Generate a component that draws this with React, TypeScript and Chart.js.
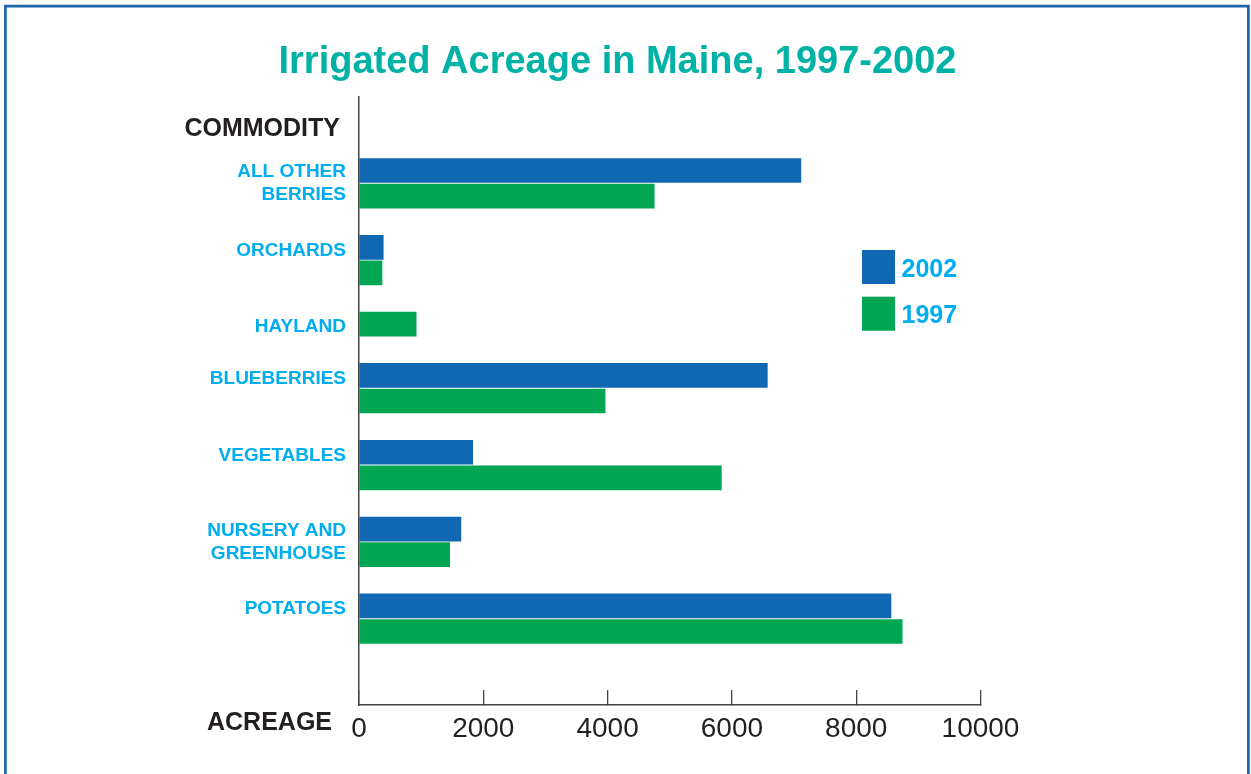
import React, { useEffect, useRef } from "react";
import { Chart, registerables } from "chart.js";

Chart.register(...registerables);

// ---------- data ----------
const chartTitle = "Irrigated Acreage in Maine, 1997-2002";
const commodities = [
  "ALL OTHER BERRIES",
  "ORCHARDS",
  "HAYLAND",
  "BLUEBERRIES",
  "VEGETABLES",
  "NURSERY AND GREENHOUSE",
  "POTATOES",
];
const commodityLabelLines = [
  ["ALL OTHER", "BERRIES"],
  ["ORCHARDS"],
  ["HAYLAND"],
  ["BLUEBERRIES"],
  ["VEGETABLES"],
  ["NURSERY AND", "GREENHOUSE"],
  ["POTATOES"],
];
const acres2002: (number | null)[] = [7110, 390, null, 6570, 1830, 1640, 8560];
const acres1997: (number | null)[] = [4750, 370, 920, 3960, 5830, 1460, 8740];
const seriesNames = ["2002", "1997"];
const xTickValues = [0, 2000, 4000, 6000, 8000, 10000];
const yAxisTitle = "COMMODITY";
const xAxisTitle = "ACREAGE";

// ---------- styles ----------
const FONT = '"Liberation Sans", Arial, Helvetica, sans-serif';
const BLUE = "#1068b3";
const GREEN = "#00a651";
const CYAN = "#00aeef";
const TEAL = "#00b2a5";
const DARK = "#231f20";
const FRAME = "#1d64a8";
const AXIS = "#444444";
const W = 1251;
const H = 774;
const ROW_EDGE = 2.87;
const SINGLE_LABEL_SHIFT = 0.12; // single-line labels sit slightly below bar centre

// Build bar rows: one row per present bar, one blank row between commodities
const seriesValues = [acres2002, acres1997];
const seriesPoints: { x: number; y: number }[][] = seriesValues.map(() => []);
const rowLabels = new Map<number, string | string[]>();
let rowCursor = 0;
commodities.forEach((_, i) => {
  const start = rowCursor;
  seriesValues.forEach((vals, si) => {
    const v = vals[i];
    if (v !== null && v !== undefined) {
      seriesPoints[si].push({ x: v, y: rowCursor });
      rowCursor++;
    }
  });
  const end = rowCursor - 1;
  const lines = commodityLabelLines[i];
  if (lines.length > 1) rowLabels.set((start + end) / 2, lines);
  else rowLabels.set(start + SINGLE_LABEL_SHIFT, lines[0]);
  rowCursor++;
});
const lastRow = rowCursor - 2;

const decorPlugin = {
  id: "decor",
  afterDraw(chart: any) {
    const ctx = chart.ctx as CanvasRenderingContext2D;
    ctx.save();
    // frame
    ctx.strokeStyle = FRAME;
    ctx.lineWidth = 2.7;
    ctx.beginPath();
    ctx.moveTo(5.4, H + 5);
    ctx.lineTo(5.4, 6.2);
    ctx.lineTo(1248.4, 6.2);
    ctx.lineTo(1248.4, H + 5);
    ctx.stroke();

    // title
    ctx.fillStyle = TEAL;
    ctx.font = `bold 38px ${FONT}`;
    ctx.textAlign = "center";
    ctx.textBaseline = "alphabetic";
    ctx.fillText(chartTitle, 617.5, 73);

    // axis titles
    ctx.fillStyle = DARK;
    ctx.font = `bold 25px ${FONT}`;
    ctx.textAlign = "right";
    ctx.fillText(yAxisTitle, 340, 136);
    ctx.fillText(xAxisTitle, 332, 730);

    // legend
    chart.data.datasets.forEach((ds: any, i: number) => {
      const top = 250 + i * 46.7;
      ctx.fillStyle = ds.backgroundColor;
      ctx.fillRect(862, top, 33, 34);
      ctx.fillStyle = CYAN;
      ctx.font = `bold 25px ${FONT}`;
      ctx.textAlign = "left";
      ctx.fillText(ds.label, 901.5, top + 17 + 9.5);
    });
    ctx.restore();
  },
};

export default function App() {
  const canvasRef = useRef<HTMLCanvasElement | null>(null);

  useEffect(() => {
    if (!canvasRef.current) return;
    Chart.defaults.font.family = FONT;
    const chart = new Chart(canvasRef.current, {
      type: "bar",
      data: {
        datasets: seriesNames.map((name, i) => ({
          label: name,
          data: seriesPoints[i],
          backgroundColor: i === 0 ? BLUE : GREEN,
          borderWidth: 0,
          grouped: false,
          barPercentage: 1,
          categoryPercentage: 1,
          maxBarThickness: 24,
        })),
      },
      options: {
        indexAxis: "y",
        animation: false,
        responsive: false,
        maintainAspectRatio: false,
        devicePixelRatio: 1,
        layout: { padding: { left: 0, right: W - 980.5, top: 97, bottom: 0 } },
        plugins: {
          legend: { display: false },
          tooltip: { enabled: false },
          title: { display: false },
        },
        scales: {
          x: {
            type: "linear",
            position: "bottom",
            offset: false,
            min: xTickValues[0],
            max: xTickValues[xTickValues.length - 1],
            afterBuildTicks: (scale: any) => {
              scale.ticks = xTickValues.map((v) => ({ value: v }));
            },
            afterFit: (scale: any) => {
              scale.height = H - 705;
            },
            grid: {
              offset: false,
              drawOnChartArea: false,
              drawTicks: true,
              tickLength: -15,
              color: AXIS,
              lineWidth: 1.3,
            },
            border: { display: true, color: AXIS, width: 1.5 },
            ticks: {
              color: DARK,
              font: { size: 28, family: FONT, lineHeight: 1.2 },
              padding: 22,
              autoSkip: false,
              maxRotation: 0,
              callback: (v: any) => String(v),
            },
          },
          y: {
            type: "linear",
            reverse: true,
            offset: false,
            bounds: "data",
            min: -ROW_EDGE,
            max: lastRow + ROW_EDGE,
            z: 1,
            afterBuildTicks: (scale: any) => {
              scale.ticks = Array.from(rowLabels.keys()).map((v) => ({ value: v }));
            },
            afterFit: (scale: any) => {
              scale.width = 359;
            },
            grid: { offset: false, drawOnChartArea: false, drawTicks: false },
            border: { display: true, color: AXIS, width: 1.5 },
            ticks: {
              color: CYAN,
              font: { size: 19, weight: "bold", family: FONT, lineHeight: 1.22 },
              padding: 13,
              autoSkip: false,
              callback: (v: any) => rowLabels.get(v) ?? "",
            },
          },
        },
      },
      plugins: [decorPlugin],
    } as any);
    return () => chart.destroy();
  }, []);

  return (
    <div style={{ position: "absolute", left: 0, top: 0, width: W, height: H, background: "#fff" }}>
      <canvas ref={canvasRef} width={W} height={H} style={{ display: "block" }} />
    </div>
  );
}
